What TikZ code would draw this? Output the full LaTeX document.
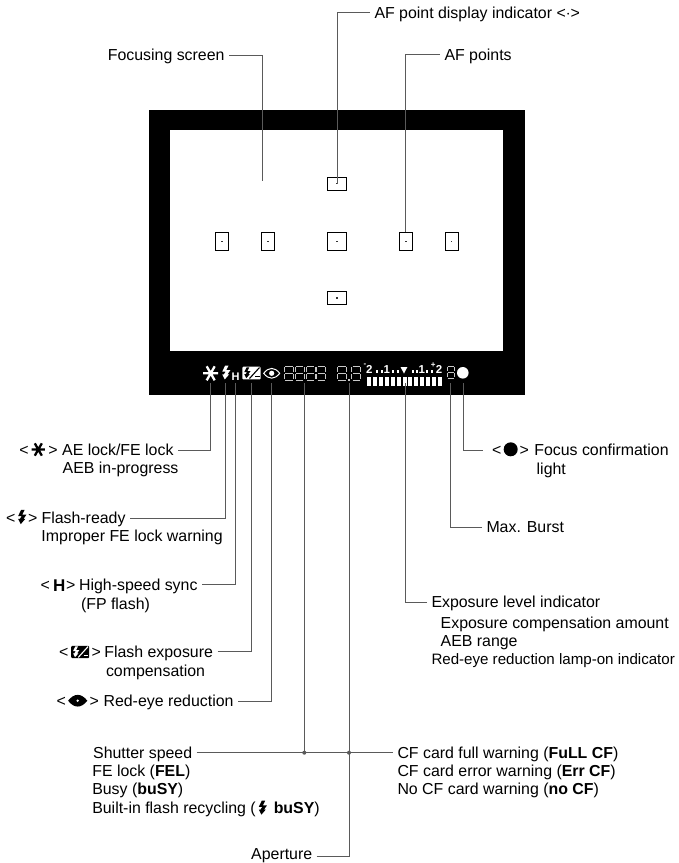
\documentclass[tikz,border=0pt]{standalone}
\usepackage{fontspec}
\setmainfont{Liberation Sans}
\definecolor{leadgray}{HTML}{5A5A5A}
\definecolor{seggray}{HTML}{C8C8C8}
\tikzset{
  txt/.style={anchor=west,outer xsep=4.5pt,inner xsep=0pt,inner ysep=0pt,text height=12pt,text depth=1pt,font=\fontsize{15.9}{18}\selectfont},
  txtleft/.style={txt,anchor=east},
  lcdtxt/.style={inner sep=0pt,text=white,font=\fontsize{11.5}{12}\selectfont\bfseries},
  lead/.style={draw=leadgray,line width=1pt},
  afpoint/.style={draw=black,line width=.8pt,inner sep=0pt},
  pics/boltmark/.style={code={\fill[pic actions] (-.6,-7.5) -- (3.1,-7.5) -- (.6,-2.5) -- (5,-2.5) -- (1.9,2) -- (3.75,2) -- (-1,7.5) -- (-3.75,2) -- (-1.9,2) -- (0,-1) -- (-3.75,-1) -- cycle;}},
  pics/starmark/.style={code={\draw[pic actions,line width=2.3pt] (-7.5,0) -- (7.5,0) (-4,-7) -- (4,7) (4,-7) -- (-4,7);}},
  pics/eyeshape/.style={code={\path[pic actions] (-8,0) .. controls (-3,-6.5) and (3,-6.5) .. (8,0) .. controls (3,6.5) and (-3,6.5) .. (-8,0) -- cycle;}},
  pics/fecmark/.style 2 args={code={
    \fill[#1,rounded corners=1pt] (-9.2,-6.3) rectangle (9.2,6.3);
    \pic[fill=#2,scale=.72] at (-4.5,-.2) {boltmark};
    \draw[#2,line width=1.1pt] (-2,5.5) -- (8,-5.5);
    \draw[#2,line width=1pt] (3.5,3.5) -- (8,3.5);
  }},
  pics/segdigit/.style={code={
    \foreach \xa/\ya/\xb/\yb in {.8/0/8.2/0,.8/7/8.2/7,.8/14/8.2/14,0/.8/0/6.2,9/.8/9/6.2,0/7.8/0/13.2,9/7.8/9/13.2}
      \draw[seggray,line width=.7pt] (\xa,\ya) -- (\xb,\yb);
  }}
}
\begin{document}
\begin{tikzpicture}[x=1pt,y=-1pt]
\useasboundingbox (0,0) rectangle (679,863);
\fill[black] (149,110) rectangle (525,395);
\fill[white] (170,130) rectangle (503,351);
\node[afpoint,minimum width=18.6pt,minimum height=13pt] (aftop) at (337,183.6) {};
\node[afpoint,minimum width=18.6pt,minimum height=13pt] (afbottom) at (337,298) {};
\node[afpoint,minimum width=18.6pt,minimum height=18pt] (afcenter) at (337,241.3) {};
\node[afpoint,minimum width=13pt,minimum height=18pt] (afleftb) at (221.8,241.3) {};
\node[afpoint,minimum width=13pt,minimum height=18pt] (afleftc) at (267.8,241.3) {};
\node[afpoint,minimum width=13pt,minimum height=18pt] (afrightb) at (405.8,241.3) {};
\node[afpoint,minimum width=13pt,minimum height=18pt] (afrightc) at (451.7,241.3) {};
\foreach \afname in {aftop,afbottom,afcenter,afleftb,afleftc,afrightb,afrightc}
  \fill[black!80] (\afname.center) +(-.7,-.7) rectangle +(.7,.7);
\pic[draw=white] at (210.7,373.3) {starmark};
\pic[fill=white,scale=.92] at (225.7,372.5) {boltmark};
\node[lcdtxt,font=\fontsize{11}{11}\selectfont\bfseries] (lcdh) at (235.7,376.5) {H};
\pic at (251.5,373) {fecmark={white}{black}};
\pic[draw=white,line width=1pt] at (271.7,373.3) {eyeshape};
\fill[white] (271.7,373.3) circle (2.6);
\foreach \x in {284.3,295.1,305.9,316.7}
  \pic at (\x,366) {segdigit};
\pic at (337.5,366) {segdigit};
\pic at (351.7,366) {segdigit};
\fill[seggray] (348.4,379) rectangle (350,380.6);
\pic[scale=.85] at (447,366) {segdigit};
\node[lcdtxt] (scalea) at (369.3,369.7) {2};
\node[lcdtxt] (scaleb) at (386.7,369.7) {1};
\node[lcdtxt] (scalec) at (421.7,369.7) {1};
\node[lcdtxt] (scaled) at (439,369.7) {2};
\node[lcdtxt,font=\fontsize{8}{8}\selectfont\bfseries] (scaleminus) at (365,365) {-};
\node[lcdtxt,font=\fontsize{8}{8}\selectfont\bfseries] (scaleplus) at (433.3,365) {+};
\fill[white] (400.5,367) -- (407.4,367) -- (404,373.5) -- cycle;
\foreach \x in {377.3,382.3,393.3,398.3,412.7,416.7,427.3,432}
  \fill[white] (\x-1,370.3) rectangle (\x+1,373);
\foreach \i in {0,...,12}
  \fill[white] ({367.3+\i*5.87},376.7) rectangle ({371.3+\i*5.87},385.7);
\fill[white] (462.8,372.8) circle (5.8);
\coordinate (lcdae) at (210.7,383);
\coordinate (lcdflash) at (225,383);
\coordinate (lcdhigh) at (235.7,383);
\coordinate (lcdfec) at (251,383);
\coordinate (lcdeye) at (271.3,383);
\coordinate (lcdshutter) at (304.3,383);
\coordinate (lcdaperture) at (349,383);
\coordinate (lcdexposure) at (405,383);
\coordinate (lcdburst) at (450,383);
\coordinate (lcdfocus) at (463.3,383);
\coordinate (screenend) at (262,181);
\coordinate (shutterdot) at (304.3,752.7);
\coordinate (aperturedot) at (349,752.7);
\node[txtleft] (screen) at (229,55) {Focusing screen};
\node[txt] (afdisplay) at (370,12.5) {AF point display indicator <$\cdot$>};
\node[txt] (afpoints) at (440,54.5) {AF points};
\draw[lead] (screen.east) -| (screenend);
\draw[lead] (afdisplay.west) -| (aftop.center);
\draw[lead] (afpoints.west) -| (afrightb.north);
\node[txtleft] (aelock) at (178,450) {AE lock/FE lock};
\node[txt] (aelockb) at (58.2,468) {AEB in-progress};
\node[txt] (aelockl) at (15,450) {<};
\node[txt] (aelockr) at (44,450) {>};
\pic[draw=black,scale=.88] at (38.3,449.5) {starmark};
\draw[lead] (aelock.east) -| (lcdae);
\node[txtleft] (flashready) at (130,518) {Flash-ready};
\node[txt] (flashreadyb) at (37,536) {Improper FE lock warning};
\node[txt] (flashl) at (1.5,518) {<};
\node[txt] (flashr) at (23.5,518) {>};
\pic[fill=black,scale=.95] at (21.7,517) {boltmark};
\draw[lead] (flashready.east) -| (lcdflash);
\node[txtleft] (highspeed) at (202,584.7) {High-speed sync};
\node[txt] (highspeedb) at (76.5,604) {(FP flash)};
\node[txt] (highl) at (36,584.7) {<};
\node[txt,font=\fontsize{17}{18}\selectfont\bfseries] (highm) at (48.5,585.5) {H};
\node[txt] (highr) at (61.5,584.7) {>};
\draw[lead] (highspeed.east) -| (lcdhigh);
\node[txtleft] (fec) at (217.5,651.7) {Flash exposure};
\node[txt] (fecb) at (101.5,670.7) {compensation};
\node[txt] (fecl) at (54.5,651.7) {<};
\node[txt] (fecr) at (87,651.7) {>};
\pic[scale=.98] at (80.2,652) {fecmark={black}{white}};
\draw[lead] (fec.east) -| (lcdfec);
\node[txtleft] (redeye) at (238,701) {Red-eye reduction};
\node[txt] (redeyel) at (52,701) {<};
\node[txt] (redeyer) at (85,701) {>};
\pic[fill=black,scale=1.2] at (77.7,700.7) {eyeshape};
\fill[white] (77.7,700.7) circle (1.3);
\draw[lead] (redeye.east) -| (lcdeye);
\node[txtleft] (shutter) at (196.7,752.7) {Shutter speed};
\node[txt] (shutterb) at (87.8,770.5) {FE lock (\textbf{FEL})};
\node[txt] (shutterc) at (87.8,789) {Busy (\textbf{buSY})};
\node[txt] (shutterd) at (87.8,807.7) {Built-in flash recycling (\hspace{18pt}\textbf{buSY})};
\pic[fill=black,scale=.93] at (262.3,807.7) {boltmark};
\node[txtleft,text height=10pt,text depth=3pt] (aperture) at (316.7,856) {Aperture};
\node[txt] (cffull) at (393,752.7) {CF card full warning (\textbf{FuLL CF})};
\node[txt] (cferr) at (393,770.5) {CF card error warning (\textbf{Err CF})};
\node[txt] (cfno) at (393,789) {No CF card warning (\textbf{no CF})};
\draw[lead] (shutter.east) -- (cffull.west);
\draw[lead] (lcdshutter) -- (shutterdot);
\draw[lead] (lcdaperture) -- (aperturedot);
\draw[lead] (aperture.east) -| (aperturedot);
\fill[leadgray] (shutterdot) circle (2);
\fill[leadgray] (aperturedot) circle (2);
\node[txt] (focus) at (529.8,450) {Focus confirmation};
\node[txt] (focusb) at (532.2,469) {light};
\node[txt] (focusl) at (487.5,450) {<};
\node[txt] (focusr) at (515,450) {>};
\fill[black] (510.7,449.3) circle (7);
\coordinate (focusend) at (482.7,450.7);
\draw[lead] (focusend) -| (lcdfocus);
\node[txt] (burst) at (482,527.3) {Max. Burst};
\draw[lead] (burst.west) -| (lcdburst);
\node[txt] (exposure) at (427,602) {Exposure level indicator};
\node[txt] (exposureb) at (436.2,622.7) {Exposure compensation amount};
\node[txt] (exposurec) at (436.2,640.7) {AEB range};
\node[txt,font=\fontsize{15.1}{18}\selectfont] (exposured) at (427,659) {Red-eye reduction lamp-on indicator};
\draw[lead] (exposure.west) -| (lcdexposure);
\end{tikzpicture}
\end{document}
